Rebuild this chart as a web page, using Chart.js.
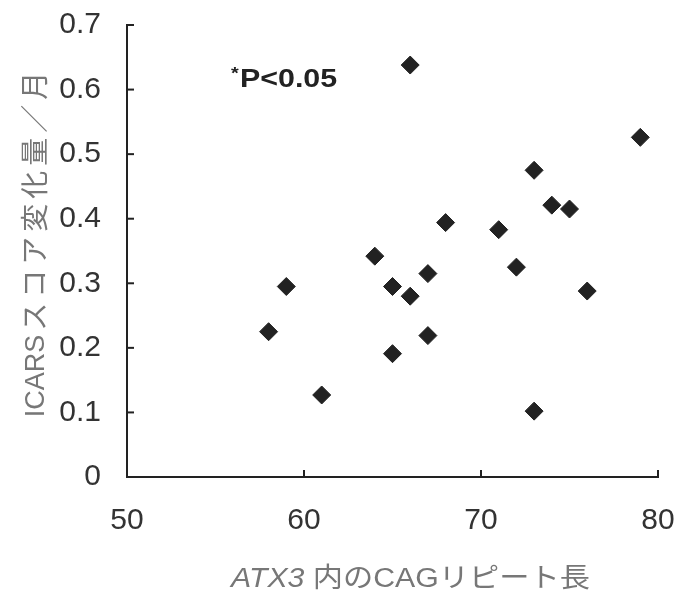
<!DOCTYPE html>
<html>
<head>
<meta charset="utf-8">
<script src="https://cdn.jsdelivr.net/npm/chart.js@4.4.1/dist/chart.umd.min.js"></script>
<style>
html,body{margin:0;padding:0;background:#fff;}
#wrap{width:690px;height:598px;position:relative;}
</style>
</head>
<body>
<div id="wrap"><canvas id="c" width="690" height="598"></canvas></div>
<script>
// Data
const cagRepeat = [58, 59, 61, 64, 65, 65, 66, 66, 67, 67, 68, 71, 72, 73, 73, 74, 75, 76, 79];
const icarsChange = [0.225, 0.295, 0.127, 0.342, 0.295, 0.191, 0.638, 0.28, 0.315, 0.219, 0.394, 0.383, 0.325, 0.475, 0.102, 0.421, 0.415, 0.288, 0.526];
const xTicks = [50, 60, 70, 80];
const yTicks = [0, 0.1, 0.2, 0.3, 0.4, 0.5, 0.6, 0.7];
const xTitleRuns = [["ATX3", "italic"], [" 内のCAGリピート長", "normal"]];
const yTitleLatin = "ICARS";
const yTitleCJK = "スコア変化量／月";
const annotation = "P<0.05";

const points = cagRepeat.map((x, i) => ({x: x, y: icarsChange[i]}));

const noPad = s => { s.paddingTop = 0; s.paddingBottom = 0; s.paddingLeft = 0; s.paddingRight = 0; };

const decor = {
  id: 'decor',
  afterDraw(chart) {
    const ctx = chart.ctx;
    const xs = chart.scales.x, ys = chart.scales.y;
    const a = chart.chartArea;
    ctx.save();
    // inward tick marks
    ctx.strokeStyle = '#222';
    ctx.lineWidth = 2;
    xTicks.forEach(v => {
      const px = xs.getPixelForValue(v);
      ctx.beginPath(); ctx.moveTo(px, a.bottom); ctx.lineTo(px, a.bottom - 7); ctx.stroke();
    });
    yTicks.forEach(v => {
      const py = ys.getPixelForValue(v);
      ctx.beginPath(); ctx.moveTo(a.left, py); ctx.lineTo(a.left + 7, py); ctx.stroke();
    });
    // annotation
    ctx.fillStyle = '#222';
    ctx.textBaseline = 'alphabetic';
    ctx.save();
    ctx.translate(a.left + 104, 87);
    ctx.scale(1.17, 1);
    ctx.font = 'bold 17px "Liberation Sans", Arial, sans-serif';
    ctx.fillText('*', 0, -8);
    const sw = ctx.measureText('*').width;
    ctx.font = 'bold 26px "Liberation Sans", Arial, sans-serif';
    ctx.fillText(annotation, sw + 1, 0);
    ctx.restore();

    // x title
    ctx.fillStyle = '#777';
    ctx.save();
    const xCenter = (a.left + a.right) / 2 + 18;
    ctx.translate(xCenter, 587);
    ctx.scale(1.12, 1);
    let total = 0;
    const runs = xTitleRuns.map(r => {
      ctx.font = r[1] + ' 27px "Liberation Sans", "Noto Sans CJK JP", sans-serif';
      const w = ctx.measureText(r[0]).width;
      total += w;
      return {t: r[0], f: ctx.font, w: w};
    });
    let xx = -total / 2;
    runs.forEach(r => { ctx.font = r.f; ctx.fillText(r.t, xx, 0); xx += r.w; });
    ctx.restore();

    // y title (rotated)
    ctx.save();
    ctx.translate(44, 243);
    ctx.rotate(-Math.PI / 2);
    ctx.font = '27px "Liberation Sans", "Noto Sans CJK JP", sans-serif';
    const lw = ctx.measureText(yTitleLatin).width;
    const chars = Array.from(yTitleCJK);
    const pitch = 33;
    const tot = lw + 2 + chars.length * pitch;
    let p = -tot / 2;
    ctx.fillText(yTitleLatin, p, 0);
    p += lw + 2;
    ctx.font = '28px "Noto Sans CJK JP", sans-serif';
    chars.forEach(ch => {
      ctx.fillText(ch, p + 2, 1);
      p += pitch;
    });
    ctx.restore();
    ctx.restore();
  }
};

new Chart(document.getElementById('c'), {
  type: 'scatter',
  data: {
    datasets: [{
      data: points,
      pointStyle: 'rectRot',
      pointRadius: 9,
      pointHoverRadius: 9,
      backgroundColor: '#222',
      borderColor: '#222',
      borderWidth: 1
    }]
  },
  options: {
    responsive: false,
    animation: false,
    layout: {padding: {top: 25, right: 32, left: 0, bottom: 0}},
    plugins: {legend: {display: false}, tooltip: {enabled: false}},
    scales: {
      x: {
        type: 'linear', min: 50, max: 80,
        afterBuildTicks: s => { s.ticks = xTicks.map(v => ({value: v})); },
        afterFit: s => { s.height = 121; noPad(s); },
        grid: {display: false, drawTicks: false},
        border: {display: true, color: '#222', width: 2},
        ticks: {color: '#333', padding: 26, font: {family: '"Liberation Sans", Arial, sans-serif', size: 30}, maxRotation: 0}
      },
      y: {
        type: 'linear', min: 0, max: 0.7,
        afterBuildTicks: s => { s.ticks = yTicks.map(v => ({value: v})); },
        afterFit: s => { s.width = 127; noPad(s); },
        grid: {display: false, drawTicks: false},
        border: {display: true, color: '#222', width: 2},
        ticks: {color: '#333', padding: 26, font: {family: '"Liberation Sans", Arial, sans-serif', size: 30},
          callback: v => String(v)}
      }
    }
  },
  plugins: [decor]
});
</script>
</body>
</html>
